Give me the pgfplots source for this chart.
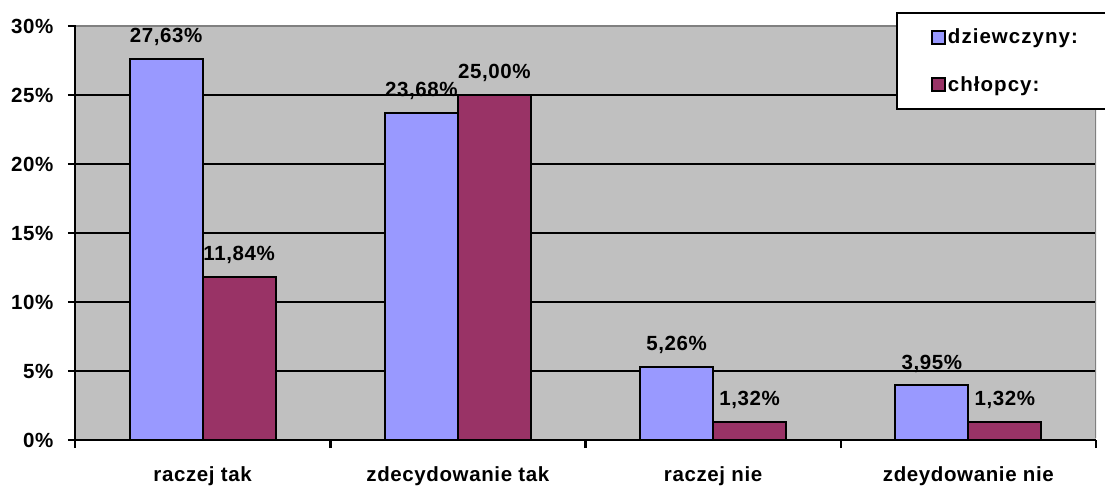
\documentclass[border=0pt]{standalone}
\usepackage{pgfplots}
\pgfplotsset{compat=1.18}
\usepackage{fontspec}
\setmainfont{Liberation Sans}[LetterSpace=3]
\newfontfamily\legfont{Liberation Sans}[LetterSpace=5]
\definecolor{blueb}{HTML}{9999FF}
\definecolor{maroonb}{HTML}{993366}
\definecolor{plotbg}{HTML}{C0C0C0}
\definecolor{bordergray}{HTML}{808080}
\newcommand\lblfont{\bfseries\fontsize{20.5}{24}\selectfont}
\newcommand\legendfont{\legfont\bfseries\fontsize{20.5}{24}\selectfont}
\begin{document}
\begin{tikzpicture}
\useasboundingbox (-75pt,-47pt) rectangle (1030pt,440pt);
\begin{axis}[
  at={(0pt,0pt)}, anchor=south west,
  scale only axis, width=1021pt, height=414pt,
  xmin=-0.5, xmax=3.5, ymin=0, ymax=30,
  axis lines=left, axis line style={-, line width=2.5pt, black},
  axis background/.style={fill=plotbg},
  ybar=0pt, bar width=73pt,
  xtick={0,1,2,3},
  xticklabels={raczej tak, zdecydowanie tak, raczej nie, zdeydowanie nie},
  major x tick style={draw=none},
  minor xtick={-0.5,0.5,1.5,2.5,3.5},
  minor x tick style={draw=black, line width=2.5pt},
  minor tick length=8pt, major tick length=7pt,
  tick align=outside,
  ytick={0,5,10,15,20,25,30},
  yticklabels={0\%,5\%,10\%,15\%,20\%,25\%,30\%},
  major y tick style={draw=black, line width=2.5pt},
  ymajorgrids, grid style={black, line width=2pt},
  ticklabel style={font=\lblfont},
  xticklabel style={yshift=-16pt},
  yticklabel style={xshift=-11pt},
  point meta=explicit symbolic,
  nodes near coords,
  every node near coord/.append style={font=\lblfont, anchor=center, yshift=22pt},
  legend style={at={(axis description cs:0.8041,1.0338)}, anchor=north west,
    draw=black, line width=2pt, fill=white, font=\legendfont,
    inner xsep=34pt, inner ysep=14pt, row sep=27pt},
  legend cell align=left,
  legend image code/.code={\draw[#1, line width=2pt] (0pt,-6.5pt) rectangle (13pt,6.5pt);},
]
\addplot[fill=blueb, draw=black, line width=2pt] coordinates {
  (0,27.63) [27,63\%]
  (1,23.68) [23,68\%]
  (2,5.26) [5,26\%]
  (3,3.95) [3,95\%]
};
\addlegendentry{dziewczyny:}
\addplot[fill=maroonb, draw=black, line width=2pt] coordinates {
  (0,11.84) [11,84\%]
  (1,25.00) [25,00\%]
  (2,1.32) [1,32\%]
  (3,1.32) [1,32\%]
};
\addlegendentry{chłopcy:}
\draw[bordergray, line width=2pt] ([xshift=1.5pt]rel axis cs:0,1) -- (rel axis cs:1,1) -- ([yshift=1.5pt]rel axis cs:1,0);
\end{axis}
\end{tikzpicture}
\end{document}
